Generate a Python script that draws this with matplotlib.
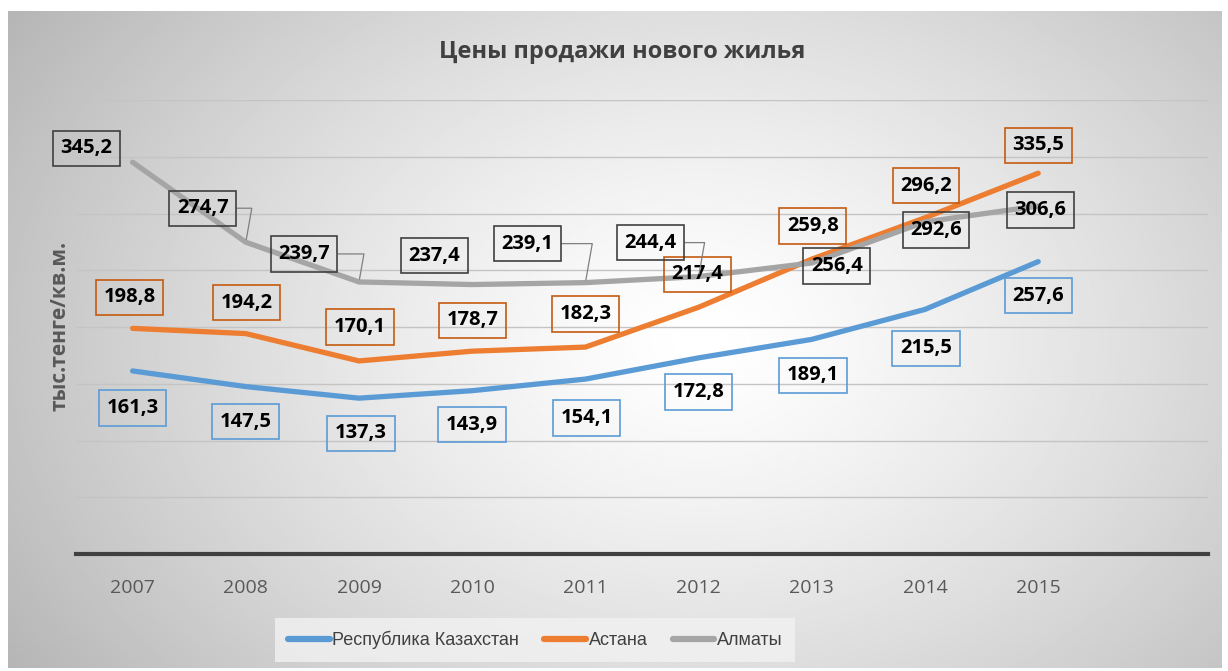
import numpy as np
import matplotlib
matplotlib.use("Agg")
import matplotlib.pyplot as plt

plt.rcParams['font.family'] = ['Open Sans', 'DejaVu Sans']

years = ['2007', '2008', '2009', '2010', '2011', '2012', '2013', '2014', '2015']
kz = [161.3, 147.5, 137.3, 143.9, 154.1, 172.8, 189.1, 215.5, 257.6]
astana = [198.8, 194.2, 170.1, 178.7, 182.3, 217.4, 259.8, 296.2, 335.5]
almaty = [345.2, 274.7, 239.7, 237.4, 239.1, 244.4, 256.4, 292.6, 306.6]
names = ['Республика Казахстан', 'Астана', 'Алматы']

# label offsets (pixels, from point to box centre)
kz_off = [(0, -37), (0, -35), (2, -35), (0, -34), (1, -39), (0, -34), (1, -36), (1, -39), (0, -34)]
ast_off = [(-3, 31), (1, 31), (1, 34), (0, 31), (0, 33), (-1, 33), (1, 33), (1, 32), (0, 28)]
alm_off = [(-46, 14), (-43, 34), (-55, 28), (-38, 29), (-58, 39), (-48, 34), (25, -3), (11, -8), (2, -4)]
leaders = [False, True, True, False, True, True, False, False, False]

colors = ['#5B9BD5', '#ED7D31', '#A5A5A5']
edges = ['#5B9BD5', '#C55A11', '#404040']

fig = plt.figure(figsize=(12.28, 6.71), dpi=100)

# radial gradient background of the chart area
bg = fig.add_axes([8/1228, 3/671, 1214/1228, 657/671])
gx, gy = np.meshgrid(np.linspace(0, 1, 400), np.linspace(0, 1, 300))
r = np.sqrt(((gx - 0.57) / 0.55) ** 2 + ((gy - 0.5) / 0.75) ** 2)
shade = 1 - 0.22 * np.clip(r, 0, 1.3) ** 1.3
bg.imshow(shade, cmap='gray', vmin=0, vmax=1, aspect='auto', extent=(0, 1, 0, 1))
bg.set_axis_off()

ax = fig.add_axes([76/1228, 1 - 554/671, 1132/1228, 454/671])
ax.patch.set_alpha(0)
x = np.arange(len(years))

series = [kz, astana, almaty]
offs = [kz_off, ast_off, alm_off]
for i, ys in enumerate(series):
    ax.plot(x, ys, color=colors[i], lw=3.8, solid_capstyle='round',
            solid_joinstyle='round', label=names[i], zorder=3)

for i, ys in enumerate(series):
    for j, v in enumerate(ys):
        dx, dy = offs[i][j]
        kw = {}
        if i == 2 and leaders[j]:
            kw['arrowprops'] = dict(arrowstyle='-', color='#7f7f7f', lw=0.9,
                                    connectionstyle='angle,angleA=0,angleB=80,rad=0',
                                    relpos=(1, 0.5), shrinkA=0, shrinkB=2)
        ax.annotate(f'{v:.1f}'.replace('.', ','), (x[j], v), xytext=(dx, dy),
                    textcoords='offset pixels', ha='center', va='center',
                    fontsize=14.5, fontweight='bold', color='black',
                    bbox=dict(boxstyle='square,pad=0.38', fc='none', ec=edges[i], lw=1.2),
                    zorder=5, **kw)

ax.set_xlim(-0.5, 9.5)
ax.set_ylim(0, 400)
ax.set_yticks(np.arange(0, 401, 50))
ax.set_yticklabels([])
ax.set_xticks(x)
ax.set_xticklabels(years)
ax.tick_params(axis='both', length=0)
ax.tick_params(axis='x', pad=18, labelsize=14, labelcolor='#595959')
ax.grid(axis='y', color='#c4c4c4', lw=1)
for s in ['top', 'right', 'left']:
    ax.spines[s].set_visible(False)
ax.spines['bottom'].set_color('#404040')
ax.spines['bottom'].set_linewidth(3)

fig.text(0.507, 1 - 52/671, 'Цены продажи нового жилья', ha='center', va='center',
         fontsize=17, fontweight='bold', color='#404040')
fig.text(60/1228, 1 - 326/671, 'тыс.тенге/кв.м.', rotation=90, ha='center', va='center',
         fontsize=15, fontweight='bold', color='#595959')

leg = fig.legend(loc='center', bbox_to_anchor=(0.436, 1 - 640/671), ncol=3, frameon=True,
                 prop={'family': ['Liberation Sans', 'DejaVu Sans'], 'size': 13},
                 handlelength=2.3, columnspacing=1.4, handletextpad=0.15,
                 fancybox=False, borderpad=0.7, borderaxespad=0)
leg.get_frame().set_facecolor('#f2f2f2')
leg.get_frame().set_edgecolor('none')
for t in leg.get_texts():
    t.set_color('#404040')
for h in leg.get_lines():
    h.set_linewidth(4.5)

fig.savefig('out.png', dpi=100)
